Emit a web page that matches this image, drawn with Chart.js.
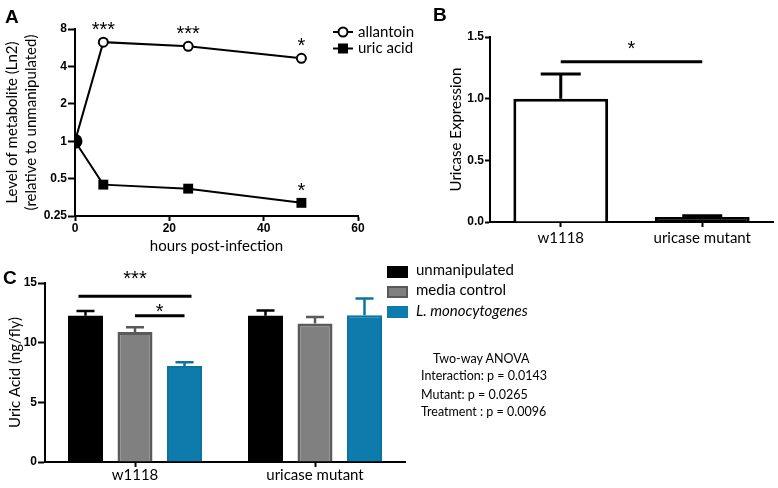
<!DOCTYPE html>
<html>
<head>
<meta charset="utf-8">
<script src="https://cdn.jsdelivr.net/npm/chart.js@4.4.1/dist/chart.umd.min.js"></script>
<style>
body { margin: 0; background: #fff; }
#fig { position: relative; width: 778px; height: 488px; overflow: hidden; font-family: Lato, sans-serif; color: #000; }
canvas { position: absolute; }
.t { position: absolute; white-space: nowrap; line-height: 1; }
.panel { font: bold 19px "Liberation Sans", Arial, sans-serif; }
.key { position: absolute; left: 387px; width: 21px; height: 12px; box-sizing: border-box; }
.lg { font-size: 15px; left: 416px; }
.anova { font-size: 12.5px; }
</style>
</head>
<body>
<div id="fig">
  <canvas id="chartB" width="398" height="250" style="left:380px;top:0"></canvas>
  <canvas id="chartA" width="440" height="262" style="left:0;top:0"></canvas>
  <canvas id="chartC" width="420" height="226" style="left:0;top:262px"></canvas>

  <div class="t panel" style="left:5px;top:6px">A</div>
  <div class="t panel" style="left:433px;top:4px">B</div>
  <div class="t panel" style="left:3px;top:267px">C</div>

  <div class="key" style="top:266px;background:#000"></div>
  <div class="key" style="top:286px;background:#808080;border:2px solid #5a5a5a"></div>
  <div class="key" style="top:306px;background:#0d7bab"></div>
  <div class="t lg" style="top:262px">unmanipulated</div>
  <div class="t lg" style="top:282px">media control</div>
  <div class="t lg" style="top:303px"><i>L. monocytogenes</i></div>

  <div class="t anova" style="left:433px;top:353px">Two-way ANOVA</div>
  <div class="t anova" style="left:421px;top:370px">Interaction: p = 0.0143</div>
  <div class="t anova" style="left:421px;top:389px">Mutant: p = 0.0265</div>
  <div class="t anova" style="left:421px;top:406px">Treatment : p = 0.0096</div>
</div>

<script>
// Panel A: metabolite level relative to unmanipulated (log2 axis)
const hours = [0, 6, 24, 48];
const allantoin = [1, 6.27, 5.8, 4.65];
const uricAcid = [1, 0.447, 0.415, 0.319];
const allantoinStars = ['', '***', '***', '*'];
const uricStars = ['', '', '', '*'];
const levelTicks = [0.25, 0.5, 1, 2, 4, 8];

// Panel B: uricase expression
const genotypes = ['w1118', 'uricase mutant'];
const uricaseExpr = [1.0, 0.04];
const uricaseErr = [0.2, 0.01];

// Panel C: uric acid (ng/fly)
const uricUnmanip = [12.25, 12.25];
const uricMedia = [10.9, 11.6];
const uricListeria = [8.05, 12.3];
const errUnmanip = [0.4, 0.45];
const errMedia = [0.4, 0.55];
const errListeria = [0.3, 1.4];

Chart.defaults.font.family = 'Lato';
Chart.defaults.color = '#000';
Chart.defaults.animation = false;
Chart.defaults.responsive = false;
Chart.defaults.devicePixelRatio = 1;
Chart.defaults.plugins.legend.display = false;
Chart.defaults.plugins.tooltip.enabled = false;

const tickFont = { family: 'Liberation Sans', size: 12, weight: 'bold' };

function drawStars(ctx, text, x, yc) {
    ctx.save();
    ctx.font = '20px "Liberation Sans"';
    ctx.fillStyle = '#000';
    ctx.textAlign = 'center';
    ctx.textBaseline = 'alphabetic';
    ctx.fillText(text, x, yc + 10);
    ctx.restore();
}

// error bars (upper only) for bar datasets
const errorBars = {
    id: 'errorBars',
    afterDatasetsDraw(chart) {
        const ctx = chart.ctx;
        const y = chart.scales.y;
        chart.data.datasets.forEach((ds, di) => {
            if (!ds.errors) return;
            chart.getDatasetMeta(di).data.forEach((bar, i) => {
                const top = y.getPixelForValue(ds.data[i] + ds.errors[i]);
                ctx.save();
                ctx.strokeStyle = ds.errorColor;
                ctx.lineWidth = ds.errorWidth;
                ctx.beginPath();
                ctx.moveTo(bar.x, bar.y);
                ctx.lineTo(bar.x, top);
                ctx.moveTo(bar.x - ds.capWidth / 2, top);
                ctx.lineTo(bar.x + ds.capWidth / 2, top);
                ctx.stroke();
                ctx.restore();
            });
        });
    }
};

// significance brackets between bars
function sigPlugin(lines) {
    return {
        id: 'sig',
        afterDraw(chart) {
            const ctx = chart.ctx;
            const y = chart.scales.y;
            lines.forEach(s => {
                const a = chart.getDatasetMeta(s.from[0]).data[s.from[1]];
                const b = chart.getDatasetMeta(s.to[0]).data[s.to[1]];
                const x1 = a.x - (s.pad || 0), x2 = b.x + (s.pad || 0);
                const ly = y.getPixelForValue(s.y);
                ctx.save();
                ctx.strokeStyle = '#000';
                ctx.lineWidth = 3;
                ctx.beginPath();
                ctx.moveTo(x1, ly);
                ctx.lineTo(x2, ly);
                ctx.stroke();
                ctx.restore();
                drawStars(ctx, s.label, (x1 + x2) / 2, y.getPixelForValue(s.labelY));
            });
        }
    };
}

// ---- Panel A ----
const pointStars = {
    id: 'pointStars',
    afterDatasetsDraw(chart) {
        [allantoinStars, uricStars].forEach((stars, di) => {
            chart.getDatasetMeta(di).data.forEach((pt, i) => {
                if (stars[i]) drawStars(chart.ctx, stars[i], pt.x, pt.y - 16);
            });
        });
    }
};

const legendA = {
    id: 'legendA',
    afterDraw(chart) {
        const ctx = chart.ctx;
        const rows = [
            { label: 'allantoin', y: 32, style: 'circle' },
            { label: 'uric acid', y: 48.5, style: 'rect' }
        ];
        rows.forEach(r => {
            ctx.save();
            ctx.strokeStyle = '#000';
            ctx.lineWidth = 2;
            ctx.beginPath();
            ctx.moveTo(333, r.y);
            ctx.lineTo(353, r.y);
            ctx.stroke();
            if (r.style === 'circle') {
                ctx.fillStyle = '#fff';
                ctx.beginPath();
                ctx.arc(343, r.y, 4.5, 0, Math.PI * 2);
                ctx.fill();
                ctx.stroke();
            } else {
                ctx.fillStyle = '#000';
                ctx.fillRect(338, r.y - 5, 10, 10);
            }
            ctx.fillStyle = '#000';
            ctx.font = '15px Lato';
            ctx.textBaseline = 'alphabetic';
            ctx.fillText(r.label, 358, r.y + 1 + 3.8);
            ctx.restore();
        });
    }
};

new Chart(document.getElementById('chartA').getContext('2d'), {
    type: 'line',
    data: {
        datasets: [
            {
                label: 'allantoin',
                data: hours.map((h, i) => ({ x: h, y: allantoin[i] })),
                borderColor: '#000',
                borderWidth: 2,
                pointRadius: [6.5, 4.5, 4.5, 4.5],
                pointBorderWidth: 2,
                pointBorderColor: '#000',
                pointBackgroundColor: ['#000', '#fff', '#fff', '#fff']
            },
            {
                label: 'uric acid',
                data: hours.map((h, i) => ({ x: h, y: uricAcid[i] })),
                borderColor: '#000',
                borderWidth: 2,
                pointStyle: 'rect',
                pointRadius: [0, 7, 7, 7],
                pointBorderWidth: 0,
                pointBackgroundColor: '#000'
            }
        ]
    },
    options: {
        layout: { padding: { left: 3, top: 29, right: 82, bottom: 0 } },
        scales: {
            x: {
                type: 'linear',
                min: 0,
                max: 60,
                ticks: { stepSize: 20, font: tickFont, padding: 0 },
                grid: { drawOnChartArea: false, tickLength: 5, tickColor: '#000', tickWidth: 2 },
                border: { color: '#000', width: 2 },
                title: { display: true, text: 'hours post-infection', font: { size: 15 }, padding: { top: 0, bottom: 7 } },
                afterFit(s) { s.height = 46; }
            },
            y: {
                type: 'logarithmic',
                min: 0.25,
                max: 8,
                afterBuildTicks(s) { s.ticks = levelTicks.map(v => ({ value: v })); },
                ticks: { font: tickFont, padding: 1, callback: v => String(v) },
                grid: { drawOnChartArea: false, tickLength: 7, tickColor: '#000', tickWidth: 2 },
                border: { color: '#000', width: 2 },
                title: {
                    display: true,
                    text: ['Level of metabolite (Ln2)', '(relative to unmanipulated)'],
                    font: { size: 15, lineHeight: 1.23 },
                    padding: { top: 0, bottom: 0 }
                },
                afterFit(s) { s.width = 72; }
            }
        }
    },
    plugins: [pointStars, legendA]
});

// ---- Panel B ----
new Chart(document.getElementById('chartB').getContext('2d'), {
    type: 'bar',
    data: {
        labels: genotypes,
        datasets: [{
            data: uricaseExpr,
            errors: uricaseErr,
            errorColor: '#000',
            errorWidth: 3,
            capWidth: 40,
            backgroundColor: ['#fff', '#000'],
            borderColor: '#000',
            borderWidth: 3,
            borderSkipped: 'bottom',
            barPercentage: 0.67,
            categoryPercentage: 1
        }]
    },
    options: {
        layout: { padding: { left: 67, top: 37, right: 5, bottom: 0 } },
        scales: {
            x: {
                ticks: { font: { size: 15 }, padding: 2 },
                grid: { drawOnChartArea: false, offset: false, tickLength: 5, tickColor: '#000', tickWidth: 2 },
                border: { color: '#000', width: 2 },
                afterFit(s) { s.height = 28; }
            },
            y: {
                min: 0,
                max: 1.5,
                ticks: { stepSize: 0.5, font: tickFont, padding: 1, callback: v => v.toFixed(1) },
                grid: { drawOnChartArea: false, tickLength: 5, tickColor: '#000', tickWidth: 2 },
                border: { color: '#000', width: 2 },
                title: { display: true, text: 'Uricase Expression', font: { size: 15 }, padding: { top: 0, bottom: 0 } },
                afterFit(s) { s.width = 43; }
            }
        }
    },
    plugins: [errorBars, sigPlugin([{ from: [0, 0], to: [0, 1], y: 1.3, label: '*', labelY: 1.435 }])]
});

// ---- Panel C ----
const barOpts = { barPercentage: 0.707, categoryPercentage: 0.825, borderSkipped: 'bottom', capWidth: 18, errorWidth: 2.5 };

new Chart(document.getElementById('chartC').getContext('2d'), {
    type: 'bar',
    data: {
        labels: genotypes,
        datasets: [
            Object.assign({
                label: 'unmanipulated',
                data: uricUnmanip,
                errors: errUnmanip,
                backgroundColor: '#000',
                borderColor: '#000',
                borderWidth: 0,
                errorColor: '#000'
            }, barOpts),
            Object.assign({
                label: 'media control',
                data: uricMedia,
                errors: errMedia,
                backgroundColor: '#808080',
                borderColor: '#5a5a5a',
                borderWidth: 3,
                errorColor: '#5a5a5a'
            }, barOpts),
            Object.assign({
                label: 'L. monocytogenes',
                data: uricListeria,
                errors: errListeria,
                backgroundColor: '#0d7bab',
                borderColor: '#0b73a1',
                borderWidth: 2,
                errorColor: '#0b73a1'
            }, barOpts)
        ]
    },
    options: {
        layout: { padding: { left: 6, top: 21, right: 15, bottom: 0 } },
        scales: {
            x: {
                ticks: { font: { size: 15 }, padding: -1 },
                grid: { drawOnChartArea: false, offset: false, tickLength: 5, tickColor: '#000', tickWidth: 2 },
                border: { color: '#000', width: 2 },
                afterFit(s) { s.height = 26; }
            },
            y: {
                min: 0,
                max: 15,
                ticks: { stepSize: 5, font: tickFont, padding: 1 },
                grid: { drawOnChartArea: false, tickLength: 7, tickColor: '#000', tickWidth: 2 },
                border: { color: '#000', width: 2 },
                title: { display: true, text: 'Uric Acid (ng/fly)', font: { size: 15 }, padding: { top: 0, bottom: 0 } },
                afterFit(s) { s.width = 39; }
            }
        }
    },
    plugins: [errorBars, sigPlugin([
        { from: [0, 0], to: [2, 0], pad: 7, y: 13.9, label: '***', labelY: 15.7 },
        { from: [1, 0], to: [2, 0], y: 12.25, label: '*', labelY: 12.87 }
    ])]
});
</script>
</body>
</html>
